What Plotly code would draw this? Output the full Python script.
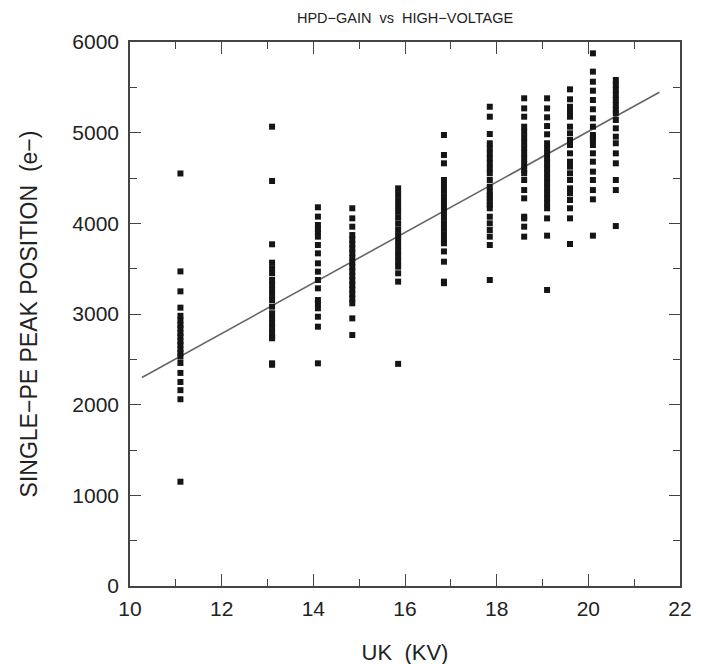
import plotly.graph_objects as go

# column voltages (kV) and single-PE peak positions
x_cols = [11.1, 13.1, 14.1, 14.85, 15.85, 16.85, 17.85, 18.6, 19.1, 19.6, 20.1, 20.6]
y_11_1 = [4550, 3470, 3250, 3070, 2980, 2930, 2880, 2840, 2790, 2750, 2700, 2660, 2610,
          2570, 2530, 2460, 2350, 2250, 2160, 2060, 1150]
y_13_1 = [5066, 4467, 3769, 3566, 3504, 3449, 3375, 3320, 3265, 3209, 3154, 3081, 3008,
          2952, 2897, 2842, 2787, 2750, 2732, 2456, 2440]
y_14_1 = [4177, 4074, 3982, 3940, 3900, 3853, 3761, 3669, 3559, 3467, 3375, 3283, 3154,
          3118, 3063, 2970, 2860, 2456]
y_14_85 = [4166, 4055, 3963, 3871, 3820, 3770, 3720, 3670, 3620, 3570, 3520, 3470, 3420,
           3370, 3320, 3270, 3220, 3170, 3118, 2952, 2768]
y_15_85 = [4386, 4323, 4257, 4191, 4128, 4066, 4000, 3934, 3871, 3816, 3750, 3687, 3632,
           3577, 3522, 3449, 3357, 2450]
y_16_85 = [4974, 4754, 4662, 4478, 4420, 4360, 4300, 4240, 4180, 4120, 4060, 4000, 3940,
           3880, 3820, 3780, 3690, 3577, 3357, 3340]
y_17_85 = [5286, 5176, 4985, 4883, 4827, 4772, 4717, 4662, 4607, 4552, 4478, 4404, 4349,
           4312, 4276, 4239, 4202, 4166, 4073, 4000, 3926, 3853, 3761, 3375]
y_18_6 = [5379, 5268, 5176, 5066, 5010, 4950, 4890, 4830, 4770, 4710, 4650, 4590, 4552,
          4478, 4367, 4276, 4073, 4055, 3963, 3853]
y_19_1 = [5379, 5268, 5169, 5073, 4982, 4883, 4827, 4772, 4717, 4662, 4607, 4552, 4497,
          4442, 4386, 4331, 4276, 4221, 4166, 4055, 3864, 3265]
y_19_6 = [5478, 5368, 5286, 5230, 5176, 5066, 4993, 4919, 4864, 4772, 4680, 4625, 4552,
          4478, 4386, 4331, 4257, 4166, 4055, 3772]
y_20_1 = [5875, 5673, 5562, 5463, 5360, 5258, 5158, 5066, 4974, 4945, 4919, 4864, 4772,
          4680, 4570, 4478, 4367, 4265, 3864]
y_20_6 = [5581, 5526, 5470, 5415, 5360, 5305, 5250, 5213, 5140, 5048, 4956, 4883, 4772,
          4662, 4478, 4367, 3970]
y_by_col = [y_11_1, y_13_1, y_14_1, y_14_85, y_15_85, y_16_85, y_17_85, y_18_6,
            y_19_1, y_19_6, y_20_1, y_20_6]

# fitted straight line end points
fit_x = [10.26, 21.55]
fit_y = [2300, 5445]

xs, ys = [], []
for xv, col in zip(x_cols, y_by_col):
    xs += [xv] * len(col)
    ys += col

fig = go.Figure()
fig.add_trace(go.Scatter(x=fit_x, y=fit_y, mode="lines",
                         line=dict(color="#666666", width=1.6), showlegend=False))
fig.add_trace(go.Scatter(x=xs, y=ys, mode="markers",
                         marker=dict(symbol="square", size=6, color="#151515",
                                     line=dict(width=0)),
                         showlegend=False))

font_family = "Liberation Sans, Arial, sans-serif"
axis_common = dict(showline=True, linecolor="#444444", linewidth=1.6, mirror="ticks",
                   ticks="inside", tickcolor="#444444", tickwidth=1.3,
                   showgrid=False, zeroline=False,
                   tickfont=dict(family=font_family, size=21, color="#222222"))

fig.update_layout(
    width=709, height=664,
    margin=dict(l=122, r=37, t=34, b=86),
    paper_bgcolor="white", plot_bgcolor="white",
    title=dict(text="HPD\u2212GAIN  vs  HIGH\u2212VOLTAGE", x=0.56, xanchor="center",
               y=0.985, yanchor="middle",
               font=dict(family=font_family, size=14.5, color="#222222")),
    xaxis=dict(range=[10, 22], dtick=2, tick0=10, ticklen=12, ticklabelstandoff=3,
               minor=dict(dtick=1, ticks="inside", ticklen=7, tickcolor="#444444",
                          tickwidth=1.3),
               title=dict(text="UK  (KV)", standoff=26,
                          font=dict(family=font_family, size=22, color="#222222")),
               **axis_common),
    yaxis=dict(range=[0, 6000], dtick=1000, tick0=0, ticklen=11, ticklabelstandoff=5,
               minor=dict(dtick=500, ticks="inside", ticklen=7, tickcolor="#444444",
                          tickwidth=1.3),
               title=dict(text="SINGLE\u2212PE PEAK POSITION  (e\u2212)", standoff=28,
                          font=dict(family=font_family, size=23, color="#222222")),
               **axis_common),
)

fig.write_html("out.html")
